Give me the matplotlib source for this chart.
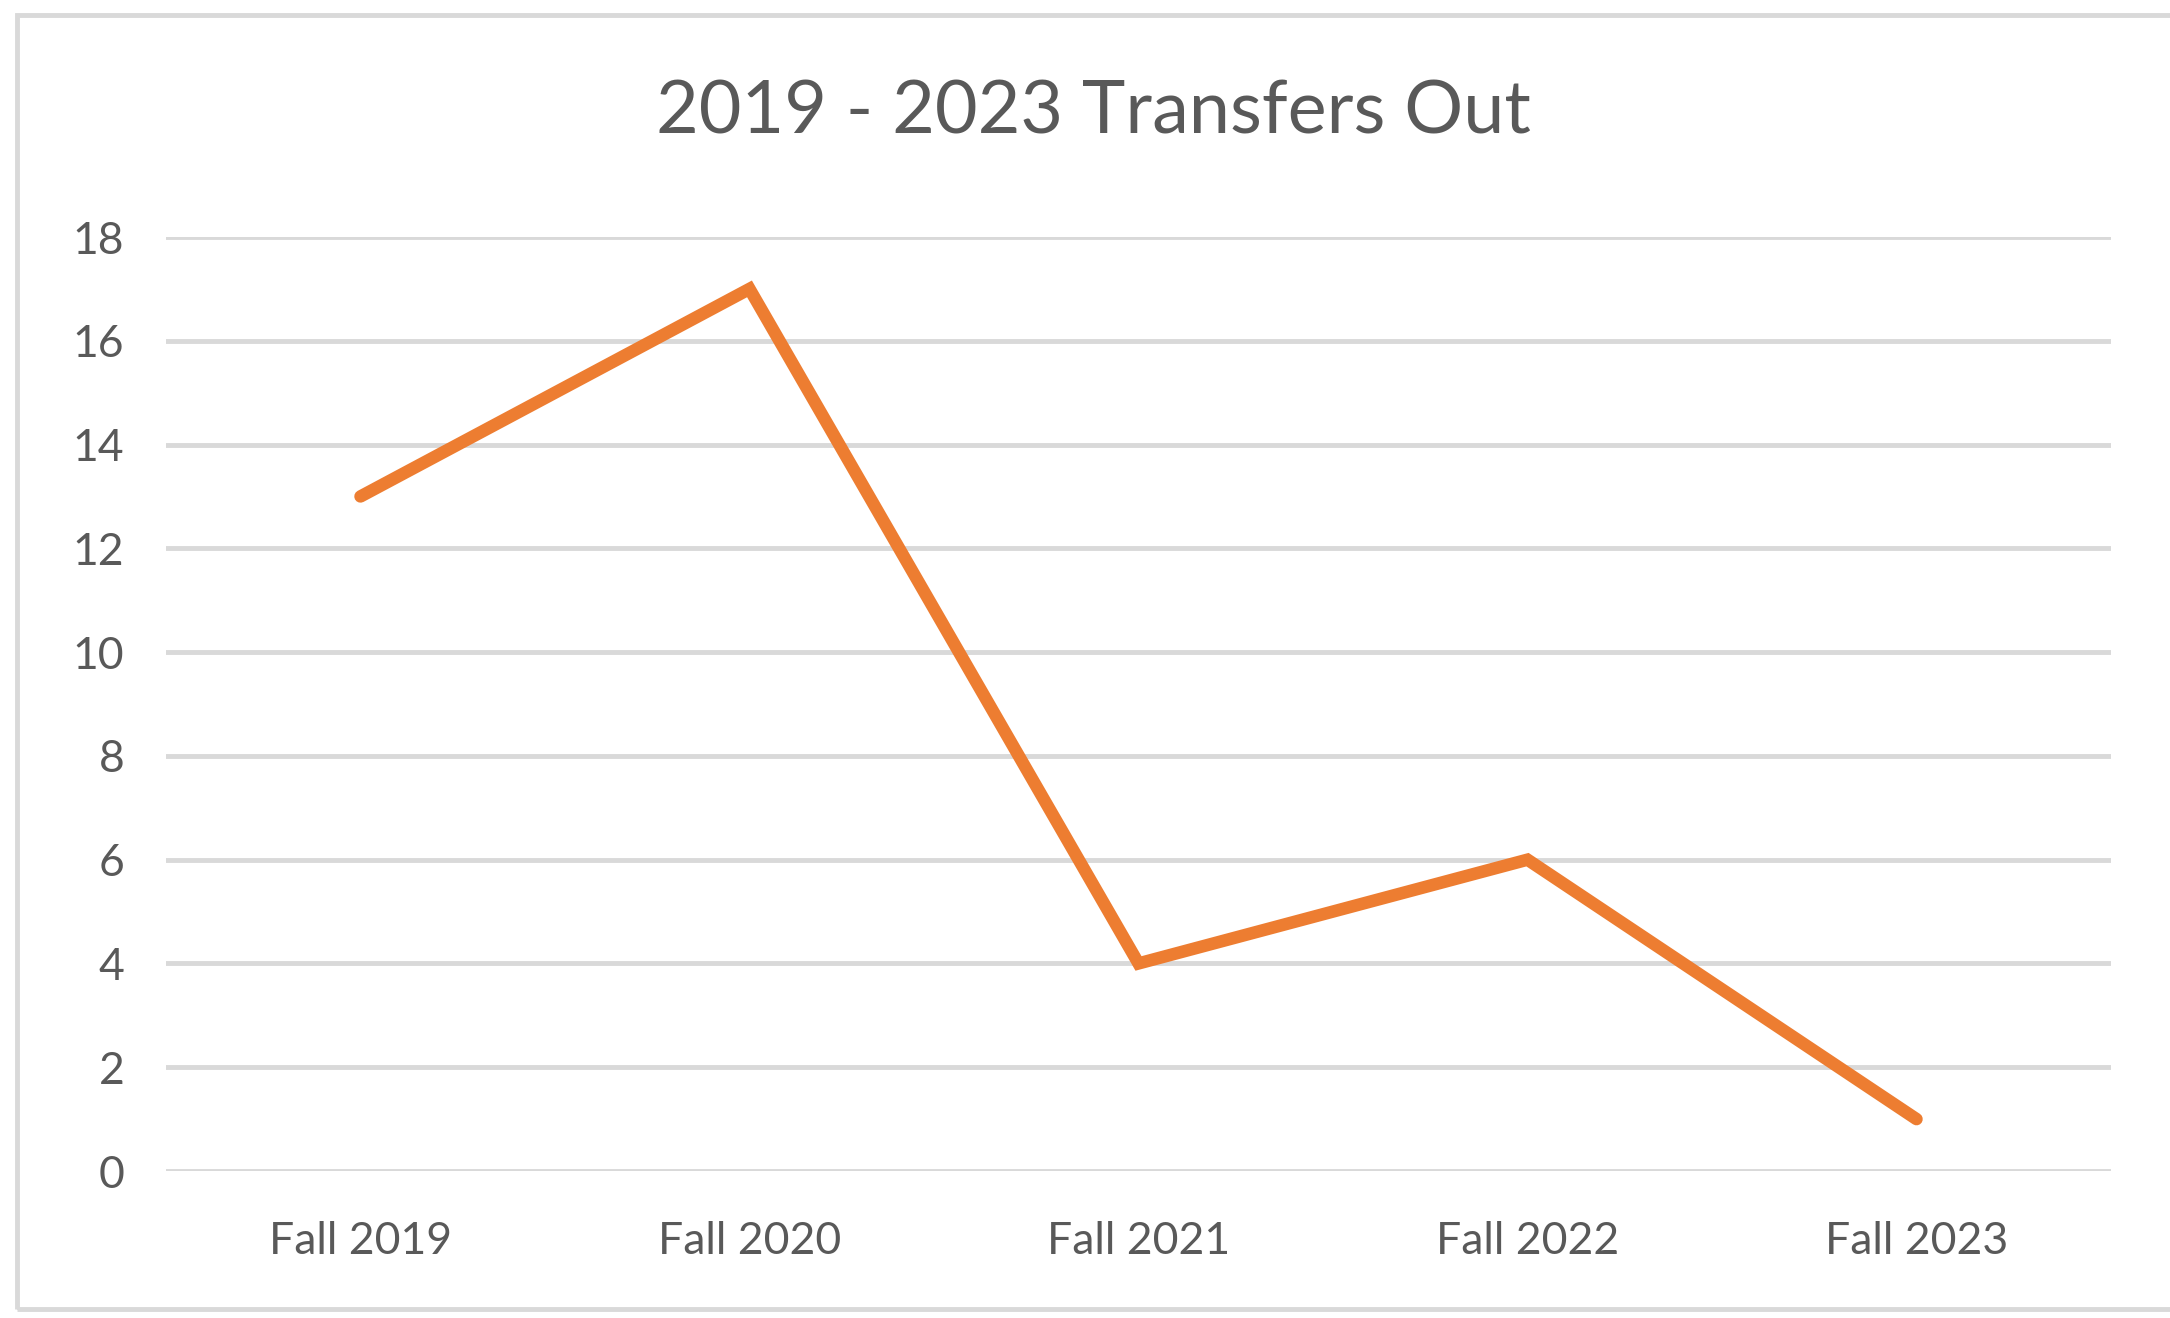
import matplotlib
matplotlib.use("Agg")
import matplotlib.pyplot as plt
from matplotlib.patches import Rectangle

terms = ["Fall 2019", "Fall 2020", "Fall 2021", "Fall 2022", "Fall 2023"]
transfers_out = [13, 17, 4, 6, 1]
y_ticks = [0, 2, 4, 6, 8, 10, 12, 14, 16, 18]

plt.rcParams['font.family'] = ['Lato', 'DejaVu Sans']
text_color = "#595959"
grid_color = "#D9D9D9"

fig = plt.figure(figsize=(21.7, 13.18), dpi=100)
ax = fig.add_axes([166/2170, 1-1171/1318, (2111-166)/2170, (1171-237)/1318])

x = list(range(len(terms)))
ax.plot(x, transfers_out, color="#ED7D31", linewidth=9, solid_capstyle="round", solid_joinstyle="miter", zorder=3)

ax.set_xlim(-0.5, len(terms)-0.5)
ax.set_ylim(0, 18)
ax.set_yticks(y_ticks)
ax.set_yticklabels([str(v) for v in y_ticks])
ax.set_xticks(x)
ax.set_xticklabels(terms)
ax.tick_params(axis="both", length=0, labelsize=32, colors=text_color)
ax.tick_params(axis="y", pad=30)
ax.tick_params(axis="x", pad=36)
for s in ax.spines.values():
    s.set_visible(False)
ax.yaxis.grid(True, color=grid_color, linewidth=3.5, zorder=0)
ax.set_axisbelow(True)

fig.text(1093/2170, 1-113/1318, "2019 - 2023 Transfers Out", ha="center", va="center",
         fontsize=53, color=text_color)

# chart border (right edge is cut off in the original)
fig.add_artist(Rectangle((17/2170, 1-1309/1318), 2200/2170, (1309-15)/1318,
                         transform=fig.transFigure, fill=False, edgecolor=grid_color,
                         linewidth=3.5, clip_on=False))

fig.savefig("out.png", dpi=100, facecolor="white")
